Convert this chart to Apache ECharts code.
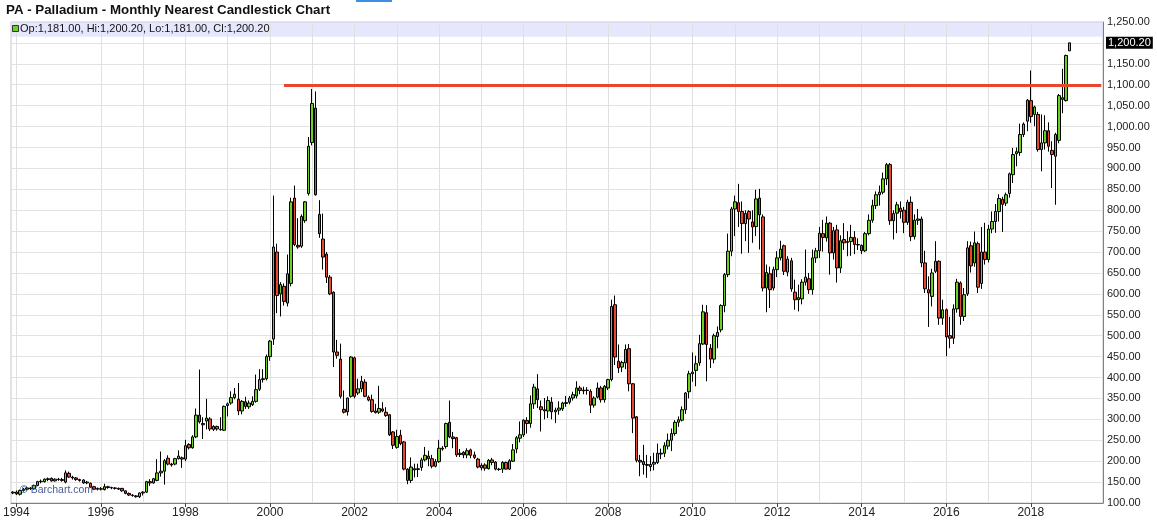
<!DOCTYPE html>
<html>
<head>
<meta charset="utf-8">
<script src="https://cdn.jsdelivr.net/npm/echarts/dist/echarts.min.js"></script>
<style>
html,body{margin:0;padding:0;background:#fff;}
#c{width:1157px;height:524px;}
</style>
</head>
<body>
<div id="c"></div>
<script>
// ---- data (monthly candles, Dec 1993 .. Dec 2018) ----
const startYear = 1993, startMonth = 12;
const totalSlots = 310; // candles + empty months on the right

const opens = [124,
126,121,130,133,136,134,142,151,151,156,159,153,
157,156,150,171,162,160,156,155,148,147,139,133,
134,132,139,137,136,135,135,129,123,119,117,115,
124,126,151,148,154,172,176,207,193,193,206,208,
205,240,232,258,310,290,296,301,276,283,276,274,
333,339,352,348,320,342,330,335,343,372,395,397,
450,492,700,600,618,578,625,829,716,714,775,840,
962,1044,790,731,695,640,604,461,444,324,318,355,
447,363,373,389,353,347,320,317,325,317,311,270,
233,262,246,181,154,182,180,185,203,212,206,188,
199,231,235,293,258,256,219,221,215,227,215,205,
184,191,182,203,198,181,181,197,181,200,229,255,
263,297,290,337,373,330,323,320,341,318,322,325,
338,341,351,356,375,370,369,367,334,353,375,347,
375,395,574,439,425,435,469,385,306,202,199,192,
187,193,197,219,219,236,250,266,293,298,323,366,
409,417,435,480,555,470,444,498,514,572,646,702,
803,818,797,768,797,772,761,829,784,614,648,614,
658,686,715,652,679,604,586,588,628,636,610,686,
703,744,734,769,698,753,662,730,723,725,735,718,
716,703,744,776,811,837,843,875,909,775,793,805,
800,771,819,737,776,779,674,610,594,654,678,542,
562,500,494,564,626,546,600,715,674,720,625,700,
682,755,773,797,826,817,840,885,935,938,981,1013,
1062,1029,1029,945,961,990,943,929,967,1065,1062,1181];

const highs = [128,
130,132,136,139,138,144,153,156,159,161,161,159,
160,160,178,175,165,162,158,157,153,149,141,137,
138,146,141,139,138,137,136,130,125,121,119,125,
128,153,157,160,205,223,205,214,196,208,226,211,
251,243,262,326,419,305,349,305,286,285,305,333,
340,367,375,387,346,354,345,355,407,420,420,455,
490,835,720,628,625,694,830,859,781,790,822,975,
1090,1084,824,792,700,645,606,490,481,369,352,451,
450,397,404,396,357,359,337,380,341,329,313,272,
275,275,248,183,209,194,194,208,234,225,215,205,
251,236,292,345,270,258,229,224,231,230,223,208,
195,195,205,208,200,184,200,199,205,241,260,295,
300,305,357,385,408,345,351,355,353,328,343,342,
356,356,366,391,380,378,377,372,355,388,380,382,
397,586,596,479,440,479,480,387,308,215,239,215,
212,220,242,230,245,266,278,298,307,331,365,416,
460,452,502,574,573,480,505,522,575,650,744,808,
835,863,821,800,800,800,849,851,790,670,665,665,
702,727,718,690,686,634,622,635,706,650,706,710,
760,777,785,772,760,765,740,769,750,765,750,733,
718,748,790,825,845,859,890,913,913,800,820,821,
808,825,833,790,803,785,703,642,660,726,680,586,
565,545,575,636,630,614,726,725,749,725,760,770,
765,797,815,838,832,842,890,949,950,1007,1010,1066,
1134,1050,1035,1029,1027,1010,965,985,1078,1138,1172,1200.2];

const lows = [121,
119,118,127,130,131,132,140,147,149,152,151,151,
153,151,147,160,156,153,151,146,145,136,131,130,
130,130,134,133,132,131,127,121,117,115,113,112,
118,124,141,146,152,163,144,190,187,190,204,184,
200,228,230,255,290,253,276,272,272,273,273,272,
307,335,348,310,312,325,325,332,340,368,388,393,
440,478,554,546,572,570,618,714,708,710,770,835,
955,835,734,658,626,597,425,445,350,314,309,352,
350,358,365,353,343,316,314,313,317,306,260,229,
230,238,178,145,148,161,162,177,199,188,183,185,
196,225,230,255,231,210,210,207,207,207,205,183,
178,177,180,190,178,177,172,180,179,198,219,245,
258,266,280,325,327,271,300,303,300,291,311,320,
330,336,345,350,360,360,359,315,328,350,340,340,
370,391,430,411,413,420,367,267,197,164,168,160,
176,178,193,205,210,228,224,261,282,295,313,350,
390,379,428,478,391,423,434,470,508,556,640,690,
738,760,696,726,698,722,738,706,606,556,566,608,
640,680,645,642,605,562,558,575,620,600,598,674,
686,701,725,646,682,627,650,705,690,691,695,705,
695,700,740,770,803,811,838,860,765,730,745,780,
745,765,726,730,765,664,602,521,570,650,526,526,
451,470,480,555,526,535,595,651,665,602,612,670,
675,745,746,773,748,810,830,865,905,930,975,989,
1009,1001,940,893,945,940,853,813,960,1032,1060,1181];

const closes = [126,
122,130,133,136,134,142,151,152,157,158,153,157,
156,154,172,162,160,156,154,148,150,138,133,135,
133,139,137,136,135,133,129,123,119,118,115,124,
126,151,148,158,172,176,201,193,191,206,212,205,
237,232,258,310,294,287,303,277,283,277,275,331,
337,352,360,320,343,331,339,343,371,395,397,450,
487,712,596,622,582,648,820,718,712,785,820,953,
1055,837,744,688,640,600,461,453,355,317,351,449,
355,373,391,355,346,319,316,326,320,309,263,238,
259,242,181,154,186,179,182,203,214,206,188,199,
231,229,290,258,254,215,216,215,225,214,209,186,
190,183,202,197,181,180,197,181,201,227,256,263,
298,290,337,377,347,323,320,345,318,322,327,339,
340,351,359,375,369,368,370,334,351,375,347,379,
395,570,449,423,436,467,385,303,202,198,192,190,
192,197,219,217,237,250,266,293,299,323,363,409,
413,433,481,557,479,444,500,508,572,646,702,803,
820,797,768,792,779,760,827,789,614,651,610,658,
686,707,654,683,612,586,591,628,640,610,686,703,
745,735,769,698,751,662,727,722,725,735,718,717,
703,744,776,811,837,843,875,909,775,792,813,797,
771,819,737,776,779,674,612,602,650,678,542,562,
497,494,564,628,546,598,710,667,722,616,700,682,
755,773,797,828,814,837,887,933,940,981,1006,1063,
1024,1047,945,961,990,953,933,981,1074,1069,1170,1200.2];

const gridYears = [1994,1996,1997,1998,1999,2000,2001,2002,2003,2004,2005,2006,
                   2007,2008,2009,2010,2011,2012,2013,2014,2015,2016,2017,2018];
const trendLevel = 1098;
const trendStart = '2000-05';
const bandRange = [1215, 1250];

// ---- build ----
const months = [];
for (let i = 0; i < totalSlots; i++) {
  const t = (startMonth - 1) + i;
  const y = startYear + Math.floor(t / 12);
  const mo = t % 12 + 1;
  months.push(y + '-' + String(mo).padStart(2, '0'));
}
const candles = opens.map((o, i) => [o, closes[i], lows[i], highs[i]]);
const last = opens.length - 1;

function fmt(v) {
  const s = Number(v).toFixed(2);
  const parts = s.split('.');
  parts[0] = parts[0].replace(/\B(?=(\d{3})+$)/g, ',');
  return parts.join('.');
}
const isLabel = (i, v) => typeof v === 'string' && v.slice(5) === '01' && (+v.slice(0, 4)) % 2 === 0;
const legendText = 'Op:' + fmt(opens[last]) + ', Hi:' + fmt(highs[last]) +
                   ', Lo:' + fmt(lows[last]) + ', Cl:' + fmt(closes[last]);
const FONT = '"Liberation Sans", Arial, sans-serif';

const chart = echarts.init(document.getElementById('c'), null, {renderer: 'canvas'});
chart.setOption({
  animation: false,
  backgroundColor: '#fff',
  title: {
    text: 'PA - Palladium - Monthly Nearest Candlestick Chart',
    left: 6, top: 4, padding: 0,
    textStyle: {fontFamily: FONT, fontSize: 13.3, fontWeight: 'bold', color: '#111'}
  },
  grid: {left: 7, right: 54, top: 22, bottom: 21, show: true, borderColor: '#c8c8c8', borderWidth: 1},
  xAxis: {
    type: 'category', data: months, boundaryGap: true,
    axisLine: {show: true, lineStyle: {color: '#808080'}},
    axisTick: {show: true, alignWithLabel: true, interval: isLabel, length: 4, lineStyle: {color: '#444'}},
    axisLabel: {interval: isLabel, formatter: v => v.slice(0, 4), color: '#222', fontSize: 12, margin: 4, fontFamily: FONT},
    splitLine: {show: false}
  },
  yAxis: {
    type: 'value', position: 'right', min: 100, max: 1250, interval: 50,
    axisLine: {show: true, lineStyle: {color: '#808080'}},
    axisTick: {show: false},
    axisLabel: {formatter: v => (v === 1200 ? '' : fmt(v)), color: '#222', fontSize: 11, margin: 4, fontFamily: FONT},
    splitLine: {show: true, lineStyle: {color: '#e2e2e2', width: 1}}
  },
  series: [
    {
      type: 'line', data: months.map(() => null), showSymbol: false, silent: true,
      markArea: {
        silent: true, z: 1,
        itemStyle: {color: 'rgba(214,214,252,0.6)'},
        data: [[{yAxis: bandRange[0]}, {yAxis: bandRange[1]}]]
      },
      markLine: {
        silent: true, z: 1.5, symbol: ['none', 'none'], animation: false,
        label: {show: false},
        lineStyle: {color: '#e0e0e0', width: 1, type: 'solid'},
        data: gridYears.map(y => ({xAxis: y + '-01'}))
      }
    },
    {
      type: 'candlestick', data: candles, barWidth: 3, z: 3,
      itemStyle: {color: '#6ad21e', color0: '#e5482f', borderColor: '#000', borderColor0: '#000', borderWidth: 1}
    },
    {
      type: 'line', data: months.map(() => null), showSymbol: false, silent: true,
      markLine: {
        silent: true, z: 6, symbol: ['none', 'none'], animation: false,
        label: {show: false},
        lineStyle: {color: '#e8462f', width: 3, type: 'solid'},
        data: [
          [{coord: [trendStart, trendLevel]}, {coord: [months[totalSlots - 1], trendLevel]}]
        ]
      }
    },
    {
      type: 'line', data: months.map(() => null), showSymbol: false, silent: true,
      markLine: {
        silent: true, z: 7, symbol: ['none', 'none'], animation: false,
        lineStyle: {color: 'rgba(0,0,0,0)', width: 1},
        label: {show: true, position: 'end', distance: 3, formatter: () => fmt(closes[last]),
                backgroundColor: '#000', color: '#fff', fontSize: 11, fontFamily: FONT,
                padding: [1, 2, 0, 2], lineHeight: 11},
        data: [{yAxis: closes[last]}]
      }
    }
  ],
  graphic: [
    {type: 'rect', left: 356, top: 0, shape: {width: 36, height: 2}, style: {fill: '#3d8ee6'}},
    {type: 'rect', shape: {x: 12.5, y: 25.5, width: 6, height: 6}, style: {fill: '#6ad21e', stroke: '#333', lineWidth: 1}, z: 50},
    {type: 'text', x: 20, y: 29, z: 50,
     style: {text: legendText, font: '11px ' + FONT, fill: '#111', verticalAlign: 'middle'}},
    {type: 'text', x: 20, y: 490, z: 100,
     style: {text: '\u00a9 Barchart.com', font: '10.5px ' + FONT, fill: 'rgba(35,60,130,0.85)', verticalAlign: 'middle'}}
  ]
});
</script>
</body>
</html>
